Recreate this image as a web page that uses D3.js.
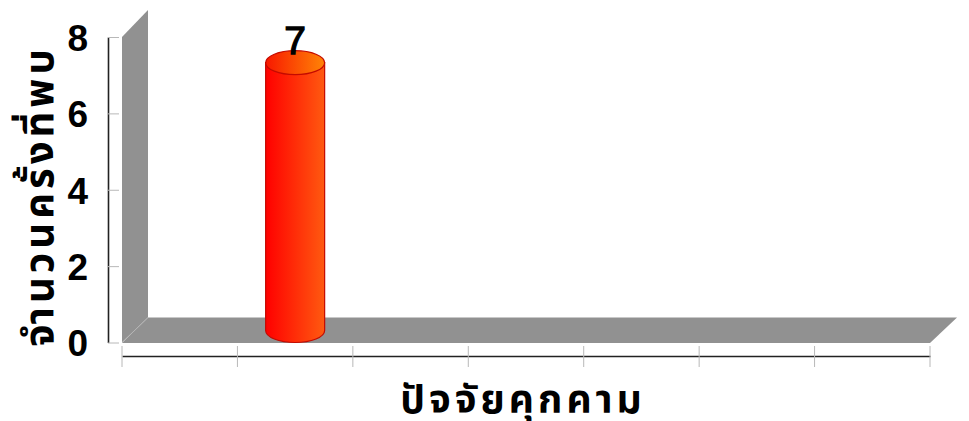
<!DOCTYPE html>
<html>
<head>
<meta charset="utf-8">
<script src="https://cdn.jsdelivr.net/npm/d3@7"></script>
<style>
  html, body { margin: 0; padding: 0; background: #fff; }
  svg { display: block; }
</style>
</head>
<body>
<div id="chart"></div>
<script>
const categories = ['c1', 'c2', 'c3', 'c4', 'c5', 'c6', 'c7'];
const values = [null, 7, null, null, null, null, null];
const yTicks = [0, 2, 4, 6, 8];
const xTitle = 'ปัจจัยคุกคาม';
const yTitle = 'จำนวนครั้งที่พบ';

const W = 969, H = 421;
const FONT = '"Liberation Sans", Arial, sans-serif';
const THAI = '"Noto Sans Thai", "Loma", "Garuda", "DejaVu Sans", "Liberation Sans", sans-serif';
const m = { l: 122, r: 930, t: 37, b: 343 };
const depth = { x: 26, y: 25 };
const WALL = '#919191';

const svg = d3.select('#chart').append('svg').attr('width', W).attr('height', H);
const defs = svg.append('defs');
const grad = (id, stops) => {
  const g = defs.append('linearGradient').attr('id', id);
  stops.forEach((s) => g.append('stop').attr('offset', s[0]).attr('stop-color', s[1]));
};
grad('body', [['0%', '#ff0000'], ['100%', '#ff5a10']]);
grad('cap', [['0%', '#f81800'], ['100%', '#ff8406']]);

const x = d3.scaleBand().domain(categories).range([m.l, m.r]);
const y = d3.scaleLinear().domain([0, 8]).range([m.b - 0.5, m.t]);

// 3d wall + floor
const line = d3.line();
svg.append('path')
  .attr('d', line([[m.l, y(8)], [m.l + depth.x, y(8) - 27], [m.l + depth.x, y(0) - depth.y], [m.l, y(0)]]) + 'Z')
  .attr('fill', WALL);
svg.append('path')
  .attr('d', line([[m.l, y(0) + 0.5], [m.l + depth.x, y(0) - depth.y], [m.r + 27, y(0) - depth.y], [m.r, y(0) + 0.5]]) + 'Z')
  .attr('fill', WALL);
svg.append('line')
  .attr('x1', m.l).attr('y1', y(0)).attr('x2', m.l + depth.x).attr('y2', y(0) - depth.y)
  .attr('stroke', '#b4b4b4').attr('stroke-width', 1);

// y axis
const yAxis = svg.append('g').attr('transform', 'translate(108,0)')
  .call(d3.axisLeft(y).tickValues(yTicks).tickSize(11).tickSizeOuter(0));
yAxis.select('.domain').attr('stroke', '#222').attr('stroke-width', 1.6);
yAxis.selectAll('.tick line').attr('x2', 11).attr('stroke', '#b8b8b8');
yAxis.selectAll('.tick text')
  .attr('x', -20).attr('dy', '0.36em')
  .attr('font-family', FONT).attr('font-weight', 700).attr('font-size', 37).attr('fill', '#000');

// x axis
const xAxis = svg.append('g').attr('transform', 'translate(0,356)')
  .call(d3.axisBottom(x).tickFormat('').tickSize(0).tickSizeOuter(0));
xAxis.select('.domain').attr('stroke', '#222').attr('stroke-width', 1.6);
xAxis.selectAll('.tick').remove();
xAxis.selectAll('line.edge').data(categories.concat('end')).join('line').attr('class', 'edge')
  .attr('x1', (d) => (d === 'end' ? m.r : x(d))).attr('x2', (d) => (d === 'end' ? m.r : x(d)))
  .attr('y1', -10).attr('y2', 11).attr('stroke', '#b8b8b8');

// cylinders
const ry = 12;
const rx = 29.5;
const bars = categories.map((c, i) => ({ c, v: values[i] })).filter((d) => d.v !== null);
const capY = (d) => y(d.v) - ry - 0.5;
const g = svg.selectAll('g.bar').data(bars).join('g').attr('class', 'bar')
  .attr('transform', (d) => `translate(${x(d.c) + x.bandwidth() / 2},0)`);
g.append('path')
  .attr('d', (d) => `M${-rx},${capY(d)}V${y(0) - ry}A${rx},${ry} 0 0 0 ${rx},${y(0) - ry}V${capY(d)}Z`)
  .attr('fill', 'url(#body)').attr('stroke', '#c40a00').attr('stroke-width', 1.2);
g.append('ellipse')
  .attr('cy', capY).attr('rx', rx).attr('ry', ry)
  .attr('fill', 'url(#cap)').attr('stroke', '#c40a00').attr('stroke-width', 1.2);
g.append('text')
  .attr('y', 54).attr('text-anchor', 'middle')
  .attr('font-family', FONT).attr('font-size', 39).attr('fill', '#000')
  .attr('stroke', '#000').attr('stroke-width', 1.3)
  .text((d) => d.v);

// titles
svg.append('text')
  .attr('x', 523).attr('y', 413).attr('text-anchor', 'middle')
  .attr('font-family', THAI).attr('font-weight', 700).attr('font-size', 39)
  .attr('letter-spacing', 4).attr('fill', '#000').text(xTitle);
svg.append('text')
  .attr('transform', 'translate(53,196) rotate(-90)').attr('text-anchor', 'middle')
  .attr('font-family', THAI).attr('font-weight', 700).attr('font-size', 40)
  .attr('letter-spacing', 4).attr('fill', '#000').text(yTitle);
</script>
</body>
</html>
